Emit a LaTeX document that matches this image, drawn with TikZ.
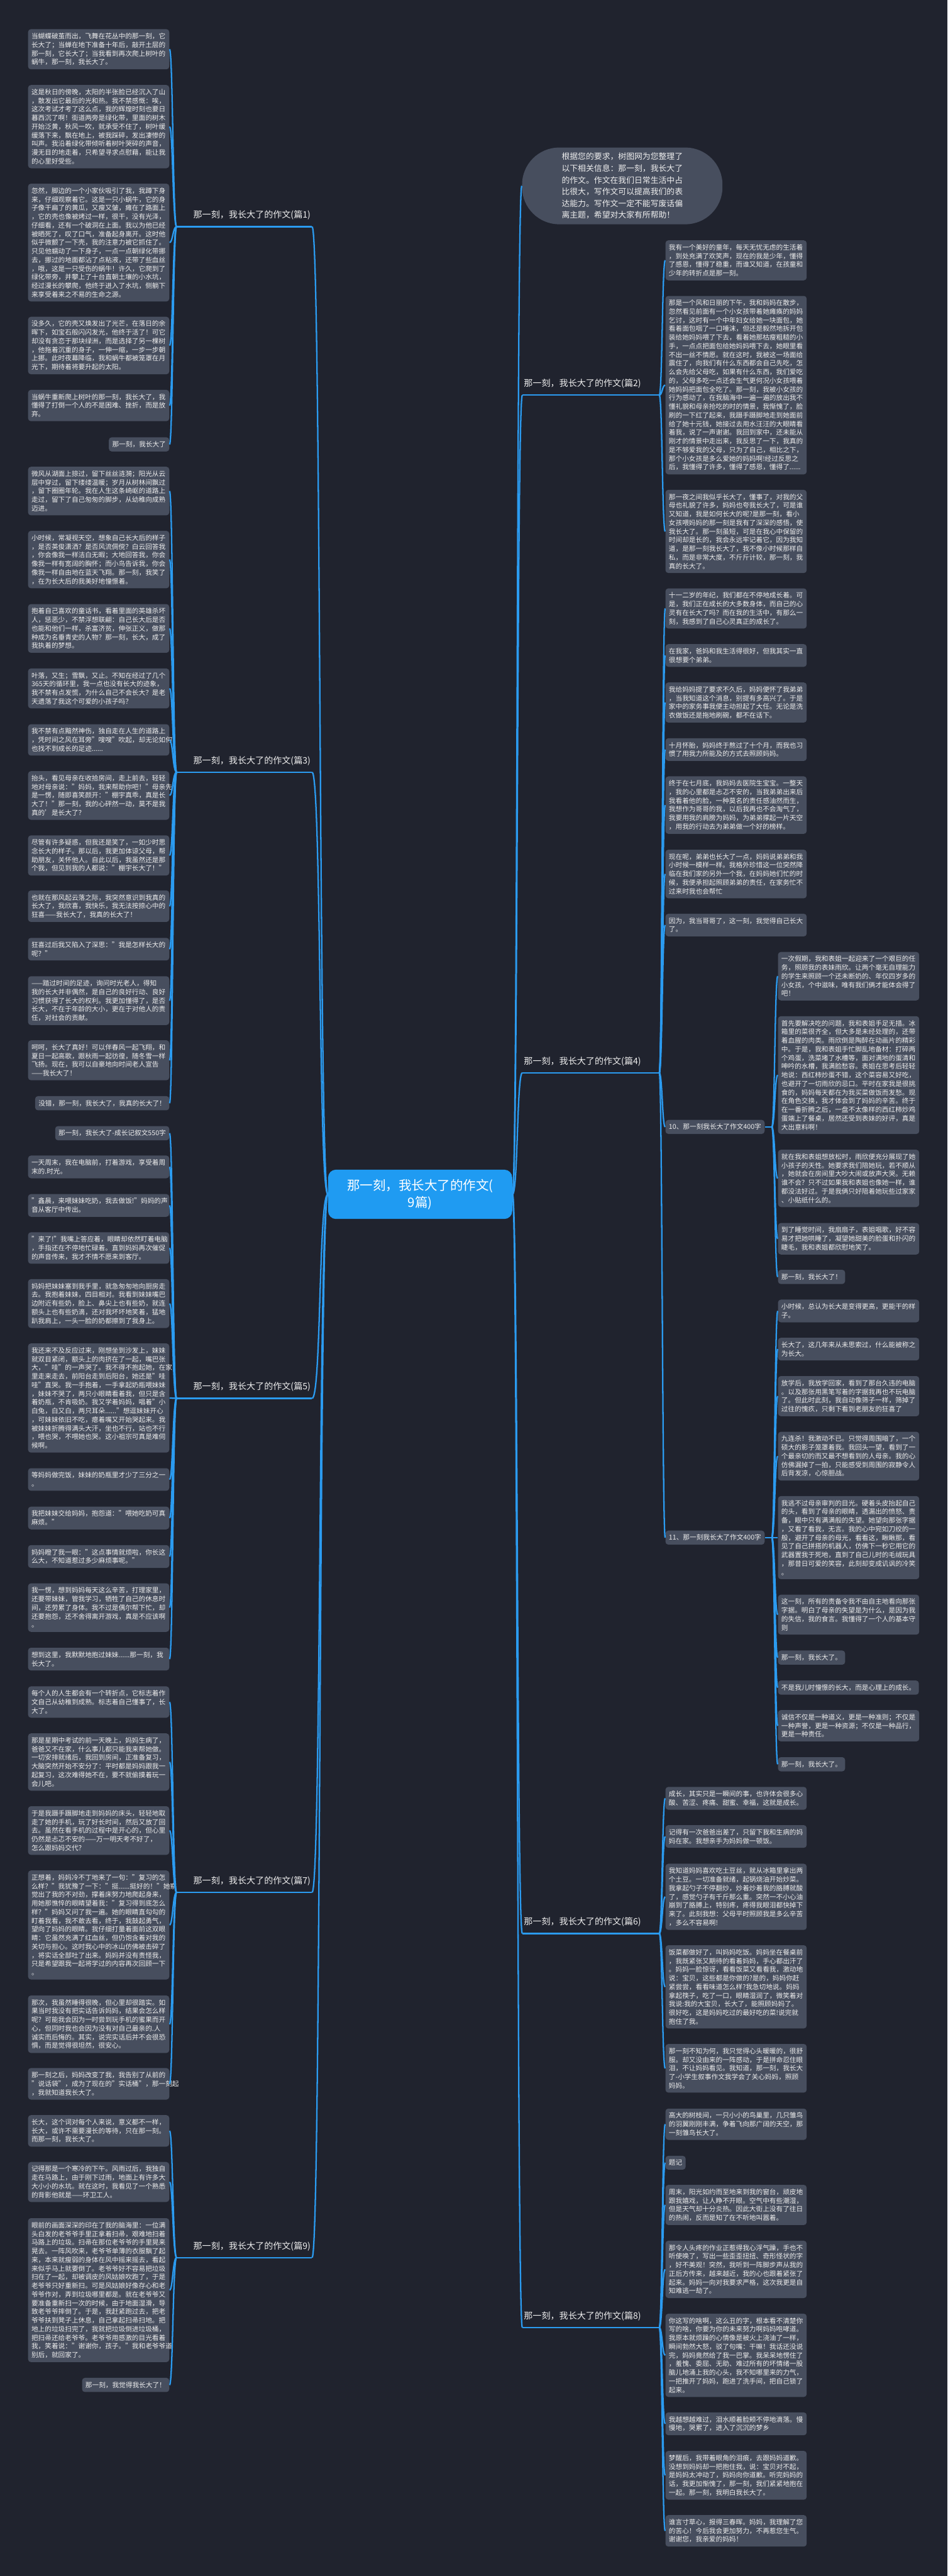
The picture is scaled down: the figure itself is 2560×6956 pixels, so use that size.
\documentclass[tikz,border=0pt]{standalone}
\usepackage{fontspec}
\setmainfont{Noto Sans CJK SC}
\usetikzlibrary{positioning}

\definecolor{bgdark}{HTML}{20232E}
\definecolor{boxgray}{HTML}{474E5E}
\definecolor{linkblue}{HTML}{2B9BF0}
\definecolor{hubblue}{HTML}{1F9BF2}
\definecolor{txtwhite}{HTML}{EEEEEE}

\begin{document}
\begin{tikzpicture}[
        x=0.01cm, y=-0.01cm,
        every node/.style={text=txtwhite},
        note/.style={rectangle, rounded corners=2.2pt, fill=boxgray, align=left, inner xsep=2.6pt, inner ysep=3pt, font=\fontsize{5.15pt}{6.64pt}\selectfont},
        leaf/.style={note, text width=3.63cm},
        topic/.style={inner xsep=1pt, inner ysep=5pt, font=\fontsize{6.8pt}{8pt}\selectfont},
        hub/.style={rectangle, rounded corners=6pt, fill=hubblue, text=white, align=center, minimum width=4.97cm, minimum height=1.33cm, font=\fontsize{9.9pt}{13pt}\selectfont},
        link/.style={draw=linkblue, line width=1.1pt}
    ]

    % Hintergrund
    \fill[bgdark] (0,0) rectangle (2560,6956);
    \useasboundingbox (0,0) rectangle (2560,6956);

    % Zentrum
    \node[hub] (hub) at (1135,3225) {那一刻，我长大了的作文(\\9篇)};

    % Einleitung
    \node[rectangle, rounded corners=1cm, fill=boxgray, minimum width=5.41cm, minimum height=2.07cm, align=left, font=\fontsize{6.2pt}{9pt}\selectfont] (intro) at (1681,502) {根据您的要求，树图网为您整理了\\以下相关信息：那一刻，我长大了\\的作文。作文在我们日常生活中占\\比很大，写作文可以提高我们的表\\达能力。写作文一定不能写废话偏\\离主题，希望对大家有所帮助！};

    % Hauptzweige links
    \node[topic, anchor=south east] (t1) at (843,612) {那一刻，我长大了的作文(篇1)};
    \node[topic, anchor=south east] (t3) at (843,2085) {那一刻，我长大了的作文(篇3)};
    \node[topic, anchor=south east] (t5) at (843,3776) {那一刻，我长大了的作文(篇5)};
    \node[topic, anchor=south east] (t7) at (843,5110) {那一刻，我长大了的作文(篇7)};
    \node[topic, anchor=south east] (t9) at (843,6096) {那一刻，我长大了的作文(篇9)};

    % Hauptzweige rechts
    \node[topic, anchor=south west] (t2) at (1411,1067) {那一刻，我长大了的作文(篇2)};
    \node[topic, anchor=south west] (t4) at (1411,2897) {那一刻，我长大了的作文(篇4)};
    \node[topic, anchor=south west] (t6) at (1411,5221) {那一刻，我长大了的作文(篇6)};
    \node[topic, anchor=south west] (t8) at (1411,6285) {那一刻，我长大了的作文(篇8)};

    % Verbindungen vom Zentrum
    \foreach \t in {t1,t3,t5,t7,t9}
        \draw[link] (hub.west) .. controls +(-25,0) and +(25,0) .. (\t.south east);
    \foreach \t in {t2,t4,t6,t8}
        \draw[link] (hub.east) .. controls +(15,0) and +(-15,0) .. (\t.south west);
    \draw[link] (hub.east) .. controls +(15,0) and +(-15,0) .. (intro.west);

    % Sammelpunkte
    \coordinate (b1) at (477,612);
    \coordinate (b3) at (477,2085);
    \coordinate (b5) at (477,3776);
    \coordinate (b7) at (477,5110);
    \coordinate (b9) at (477,6096);
    \coordinate (b2) at (1781,1067);
    \coordinate (b4) at (1781,2897);
    \coordinate (b6) at (1781,5221);
    \coordinate (b8) at (1781,6285);
    \coordinate (s10) at (2085,3043);
    \coordinate (s11) at (2085,4152);

    % Abschnitt 1
    \node[leaf, anchor=east] (l1a) at (458,133) {当蝴蝶破茧而出，飞舞在花丛中的那一刻，它\\长大了；当蝉在地下准备十年后，敲开土层的\\那一刻，它长大了；当我看到再次爬上树叶的\\蜗牛，那一刻，我长大了。};
    \node[leaf, anchor=east] (l1b) at (458,342) {这是秋日的傍晚，太阳的半张脸已经沉入了山\\，散发出它最后的光和热。我不禁感慨：唉，\\这次考试才考了这么点，我的辉煌时刻也要日\\暮西沉了啊！街道两旁是绿化带，里面的树木\\开始泛黄，秋风一吹，就承受不住了，树叶缓\\缓落下来，飘在地上，被我踩碎，发出凄惨的\\叫声。我沿着绿化带倾听着树叶哭碎的声音，\\漫无目的地走着，只希望寻求点慰藉，能让我\\的心里好受些。};
    \node[leaf, anchor=east] (l1c) at (458,655) {忽然，脚边的一个小家伙吸引了我，我蹲下身\\来，仔细观察着它。这是一只小蜗牛，它的身\\子像干扁了的黄瓜，又瘦又皱，瘫在了路面上\\，它的壳也像被烤过一样，很干，没有光泽，\\仔细看，还有一个破洞在上面。我以为他已经\\被晒死了，叹了口气，准备起身离开。这时他\\似乎微颤了一下壳，我的注意力被它抓住了。\\只见他蠕动了一下身子，一点一点朝绿化带挪\\去，挪过的地面都沾了点粘液，还带了些血丝\\，哦，这是一只受伤的蜗牛！许久，它爬到了\\绿化带旁，并攀上了十台直朝土壤的小水坑，\\经过漫长的攀爬，他终于进入了水坑，侧躺下\\来享受着来之不易的生命之源。};
    \node[leaf, anchor=east] (l1d) at (458,933) {没多久，它的壳又焕发出了光芒，在落日的余\\晖下，如宝石般闪闪发光，他终于活了！可它\\却没有贪恋于那块绿洲，而是选择了另一棵树\\，他拖着沉重的身子，一伸一缩，一步一步朝\\上挪。此时夜幕降临，我和蜗牛都被笼罩在月\\光下，期待着将要升起的太阳。};
    \node[leaf, anchor=east] (l1e) at (458,1095) {当蜗牛重新爬上树叶的那一刻，我长大了，我\\懂得了打倒一个人的不是困难、挫折，而是放\\弃。};
    \node[note, anchor=east] (l1f) at (458,1200) {那一刻，我长大了};

    % Abschnitt 3
    \node[leaf, anchor=east] (l3a) at (458,1326) {微风从湖面上掠过，留下丝丝涟漪；阳光从云\\层中穿过，留下缕缕温暖；岁月从树林间飘过\\，留下圈圈年轮。我在人生这条崎岖的道路上\\走过，留下了自己匆匆的脚步，从幼稚向成熟\\迈进。};
    \node[leaf, anchor=east] (l3b) at (458,1511) {小时候，常凝视天空，想象自己长大后的样子\\，是否英俊潇洒？是否风流倜傥？白云回答我\\，你会像我一样洁白无暇；大地回答我，你会\\像我一样有宽阔的胸怀；而小鸟告诉我，你会\\像我一样自由地在蓝天飞翔。那一刻，我笑了\\，在为长大后的我美好地憧憬着。};
    \node[leaf, anchor=east] (l3c) at (458,1697) {抱着自己喜欢的童话书，看着里面的英雄杀坏\\人，惩恶少，不禁浮想联翩：自己长大后是否\\也能和他们一样，杀富济贫，伸张正义，做那\\种成为名垂青史的人物？那一刻，长大，成了\\我执着的梦想。};
    \node[leaf, anchor=east] (l3d) at (458,1859) {叶落，又生；雪飘，又止。不知在经过了几个\\365天的循环里，我一点也没有长大的迹象，\\我不禁有点发慌，为什么自己不会长大？是老\\天遗落了我这个可爱的小孩子吗？};
    \node[leaf, anchor=east] (l3e) at (458,1998) {我不禁有点黯然神伤，独自走在人生的道路上\\，凭时间之风在耳旁"嗖嗖"吹起，却无论如何\\也找不到成长的足迹......};
    \node[leaf, anchor=east] (l3f) at (458,2148) {抬头，看见母亲在收拾房间，走上前去，轻轻\\地对母亲说："妈妈，我来帮助你吧！"母亲先\\是一愣，随即喜笑颜开："棚宇真乖，真是长\\大了！"那一刻，我的心砰然一动，莫不是我\\真的'是长大了？};
    \node[leaf, anchor=east] (l3g) at (458,2310) {尽管有许多疑惑，但我还是笑了，一如少时思\\念长大的样子。那以后，我更加体谅父母，帮\\助朋友，关怀他人。自此以后，我虽然还是那\\个我，但见到我的人都说："棚宇长大了！"};
    \node[leaf, anchor=east] (l3h) at (458,2447) {也就在那风起云落之际，我突然意识到我真的\\长大了，我欣喜，我快乐，我无法按捺心中的\\狂喜——我长大了，我真的长大了！};
    \node[leaf, anchor=east] (l3i) at (458,2563) {狂喜过后我又陷入了深思："我是怎样长大的\\呢？"};
    \node[leaf, anchor=east] (l3j) at (458,2702) {——踏过时间的足迹，询问时光老人，得知\\我的长大并非偶然，是自己的良好行动、良好\\习惯获得了长大的权利。我更加懂得了，是否\\长大，不在于年龄的大小，更在于对他人的责\\任，对社会的贡献。};
    \node[leaf, anchor=east] (l3k) at (458,2863) {呵呵，长大了真好！可以伴春风一起飞翔，和\\夏日一起高歌，跟秋雨一起彷徨，随冬雪一样\\飞扬。现在，我可以自豪地向时间老人宣告\\——我长大了！};
    \node[note, anchor=east] (l3l) at (458,2979) {没错，那一刻，我长大了，我真的长大了！};

    % Abschnitt 5
    \node[note, anchor=east] (l5a) at (458,3060) {那一刻，我长大了-成长记叙文550字};
    \node[leaf, anchor=east] (l5b) at (458,3151) {一天周末，我在电脑前，打着游戏，享受着周\\末的.时光。};
    \node[leaf, anchor=east] (l5c) at (458,3255) {"鑫晨，来喂妹妹吃奶，我去做饭!"妈妈的声\\音从客厅中传出。};
    \node[leaf, anchor=east] (l5d) at (458,3370) {"来了!"我嘴上答应着，眼睛却依然盯着电脑\\，手指还在不停地忙碌着。直到妈妈再次催促\\的声音传来，我才不情不愿来到客厅。};
    \node[leaf, anchor=east] (l5e) at (458,3520) {妈妈把妹妹塞到我手里，就急匆匆地向厨房走\\去。我抱着妹妹，四目相对。我看到妹妹嘴巴\\边附近有些奶，脸上、鼻尖上也有些奶，就连\\额头上也有些奶滴，还对我坏坏地笑着，猛地\\趴我肩上，一头一脸的奶都擦到了我身上。};
    \node[leaf, anchor=east] (l5f) at (458,3775) {我还来不及反应过来，刚想坐到沙发上，妹妹\\就双目紧闭，额头上的肉挤在了一起，嘴巴张\\大，"哇"的一声哭了。我不得不抱起她，在家\\里走来走去，前阳台走到后阳台，她还是"哇\\哇"直哭。我一手抱着，一手拿起奶瓶喂妹妹\\，妹妹不哭了，两只小眼睛看着我，但只是含\\着奶瓶，不肯吸奶。我又学着妈妈，唱着"小\\白兔，白又白，两只耳朵......"想逗妹妹开心\\，可妹妹依旧不吃，瘪着嘴又开始哭起来。我\\被妹妹折腾得满头大汗，坐也不行，站也不行\\，喂也哭，不喂她也哭。这小祖宗可真是难伺\\候啊。};
    \node[leaf, anchor=east] (l5g) at (458,3995) {等妈妈做完饭，妹妹的奶瓶里才少了三分之一\\。};
    \node[leaf, anchor=east] (l5h) at (458,4099) {我把妹妹交给妈妈，抱怨道："喂她吃奶可真\\麻烦。"};
    \node[leaf, anchor=east] (l5i) at (458,4203) {妈妈瞪了我一眼："这点事情就烦啦，你长这\\么大，不知道惹过多少麻烦事呢。"};
    \node[leaf, anchor=east] (l5j) at (458,4341) {我一愣，想到妈妈每天这么辛苦，打理家里，\\还要带妹妹，管我学习，牺牲了自己的休息时\\间，还劳累了身体。我不过是偶尔帮下忙，却\\还要抱怨，还不舍得离开游戏，真是不应该啊\\。};
    \node[leaf, anchor=east] (l5k) at (458,4480) {想到这里，我默默地抱过妹妹......那一刻，我\\长大了。};

    % Abschnitt 7
    \node[leaf, anchor=east] (l7a) at (458,4596) {每个人的人生都会有一个转折点，它标志着作\\文自己从幼稚到成熟。标志着自己懂事了，长\\大了。};
    \node[leaf, anchor=east] (l7b) at (458,4758) {那是星期中考试的前一天晚上，妈妈生病了，\\爸爸又不在家，什么事儿都只能我来帮她做。\\一切安排就绪后，我回到房间，正准备复习，\\大脑突然开始不安分了：平时都是妈妈跟我一\\起复习，这次难得她不在，要不就偷摸着玩一\\会儿吧。};
    \node[leaf, anchor=east] (l7c) at (458,4943) {于是我蹑手蹑脚地走到妈妈的床头，轻轻地取\\走了她的手机，玩了好长时间，然后又放了回\\去。虽然在看手机的过程中是开心的，但心里\\仍然是忐忑不安的——万一明天考不好了，\\怎么跟妈妈交代？};
    \node[leaf, anchor=east] (l7d) at (458,5198) {正想着，妈妈冷不丁地来了一句："复习的怎\\么样？"我犹豫了一下："挺......挺好的！"她察\\觉出了我的不对劲，撑着床努力地爬起身来，\\用她那憔悴的眼睛望着我："复习得到底怎么\\样？"妈妈又问了我一遍。她的眼睛直勾勾的\\盯着我看，我不敢去看，终于，我鼓起勇气，\\望向了妈妈的眼睛。我仔细打量着面前这双眼\\睛：它虽然充满了红血丝，但仍饱含着对我的\\关切与担心。这时我心中的冰山仿佛被击碎了\\，将实话全部吐了出来。妈妈并没有责怪我，\\只是希望跟我一起将学过的内容再次回顾一下\\。};
    \node[leaf, anchor=east] (l7e) at (458,5466) {那次，我虽然睡得很晚，但心里却很踏实。如\\果当时我没有把实话告诉妈妈，结果会怎么样\\呢？可能我会因为一时尝到玩手机的蜜果而开\\心，但同时我也会因为没有对自己最亲的.人\\诚实而后悔的。其实，说完实话后并不会很恐\\惧，而是觉得很坦然，很安心。};
    \node[leaf, anchor=east] (l7f) at (458,5627) {那一刻之后，妈妈改变了我，我告别了从前的\\"说话袋"，成为了现在的"实话桶"，那一刻起\\，我就知道我长大了。};

    % Abschnitt 9
    \node[leaf, anchor=east] (l9a) at (458,5754) {长大，这个词对每个人来说，意义都不一样，\\长大，或许不需要漫长的等待，只在那一刻。\\而那一刻，我长大了。};
    \node[leaf, anchor=east] (l9b) at (458,5892) {记得那是一个寒冷的下午。风雨过后，我独自\\走在马路上，由于刚下过雨，地面上有许多大\\大小小的水坑。就在这时，我看见了一个熟悉\\的背影他就是——环卫工人。};
    \node[leaf, anchor=east] (l9c) at (458,6184) {眼前的画面深深的印在了我的脑海里：一位满\\头白发的老爷爷手里正拿着扫帚，艰难地扫着\\马路上的垃圾。扫帚在那位老爷爷的手里晃来\\晃去。一阵风吹来，老爷爷单薄的衣服飘了起\\来，本来就瘦弱的身体在风中摇来摇去，看起\\来似乎马上就要倒了。老爷爷好不容易把垃圾\\扫在了一起，却被调皮的风姑娘吹跑了，于是\\老爷爷只好重新扫。可是风姑娘好像存心和老\\爷爷作对，弄到垃圾哪里都是。就在老爷爷又\\要准备重新扫一次的时候，由于地面湿滑，导\\致老爷爷摔倒了。于是，我赶紧跑过去，把老\\爷爷扶到凳子上休息，自己拿起扫帚扫地。把\\地上的垃圾扫完了，我就把垃圾倒进垃圾桶，\\把扫帚还给老爷爷。老爷爷用感激的目光看着\\我，笑着说："谢谢你，孩子。"我和老爷爷道\\别后，就回家了。};
    \node[note, anchor=east] (l9d) at (458,6440) {那一刻，我觉得我长大了！};

    % Abschnitt 2
    \node[leaf, anchor=west] (r2a) at (1797,703) {我有一个美好的童年，每天无忧无虑的生活着\\，到处充满了欢笑声，现在的我是少年，懂得\\了感恩，懂得了稳重，而谁又知道，在孩童和\\少年的转折点是那一刻。};
    \node[leaf, anchor=west] (r2b) at (1797,1040) {那是一个风和日丽的下午，我和妈妈在散步，\\忽然看见前面有一个小女孩带着她瘫痪的妈妈\\乞讨，这时有一个中年妇女给她一块面包，她\\看着面包咽了一口唾沫，但还是毅然地拆开包\\装给她妈妈喂了下去，看着她那枯瘦粗糙的小\\手，一点点把面包给她妈妈喂下去，她眼里看\\不出一丝不情愿。就在这时，我被这一场面给\\震住了，向我们有什么东西都会自己先吃，怎\\么会先给父母吃，如果有什么东西，我们爱吃\\的，父母多吃一点还会生气更何况小女孩喂着\\她妈妈把面包全吃了。那一刻，我被小女孩的\\行为感动了，在我脑海中一遍一遍的放出我不\\懂礼貌和母亲抢吃的时的情景，我惭愧了，脸\\刷的一下红了起来，我蹑手蹑脚地走到她面前\\给了她十元钱，她接过去用水汪汪的大眼睛看\\着我，说了一声谢谢。我回到家中，还未能从\\刚才的情景中走出来，我反思了一下，我真的\\是不够爱我的父母，只为了自己，相比之下，\\那个小女孩是多么爱她的妈妈啊!经过反思之\\后，我懂得了许多，懂得了感恩，懂得了......};
    \node[leaf, anchor=west] (r2c) at (1797,1435) {那一夜之间我似乎长大了，懂事了，对我的父\\母也礼貌了许多，妈妈也夸我长大了，可是谁\\又知道，我是如何长大的呢?是那一刻，看小\\女孩喂妈妈的那一刻是我有了深深的感悟，使\\我长大了。那一刻虽短，可是在我心中保留的\\时间却是长的，我会永远牢记着它，因为我知\\道，是那一刻我长大了，我不像小时候那样自\\私，而是非常大度，不斤斤计较，那一刻，我\\真的长大了。};

    % Abschnitt 4
    \node[leaf, anchor=west] (r4a) at (1797,1643) {十一二岁的年纪，我们都在不停地成长着。可\\是，我们正在成长的大多数身体，而自己的心\\灵有在长大了吗？而在我的生活中，有那么一\\刻，我感到了自己心灵真正的成长了。};
    \node[leaf, anchor=west] (r4b) at (1797,1770) {在我家，爸妈和我生活得很好，但我其实一直\\很想要个弟弟。};
    \node[leaf, anchor=west] (r4c) at (1797,1897) {我给妈妈提了要求不久后，妈妈便怀了我弟弟\\，当我知道这个消息，别提有多高兴了。于是\\家中的家务事我便主动担起了大任。无论是洗\\衣做饭还是拖地刷碗，都不在话下。};
    \node[leaf, anchor=west] (r4d) at (1797,2024) {十月怀胎，妈妈终于熬过了十个月，而我也习\\惯了用我力所能及的方式去照顾妈妈。};
    \node[leaf, anchor=west] (r4e) at (1797,2174) {终于在七月底，我妈妈去医院生宝宝。一整天\\，我的心里都是忐忑不安的，当我弟弟出来后\\我看着他的脸，一种莫名的责任感油然而生，\\我想作为哥哥的我，以后我再也不会淘气了，\\我要用我的肩膀为妈妈，为弟弟撑起一片天空\\，用我的行动去为弟弟做一个好的榜样。};
    \node[leaf, anchor=west] (r4f) at (1797,2360) {现在呢，弟弟也长大了一点，妈妈说弟弟和我\\小时候一模样一样。我格外珍惜这一位突然降\\临在我们家的另外一个我，在妈妈她们忙的时\\候，我便承担起照顾弟弟的责任，在家务忙不\\过来时我也会帮忙};
    \node[leaf, anchor=west] (r4g) at (1797,2498) {因为，我当哥哥了，这一刻，我觉得自己长大\\了。};
    \node[note, anchor=west] (sub10) at (1797,3043) {10、那一刻我长大了作文400字};
    \node[note, anchor=west] (sub11) at (1797,4152) {11、那一刻我长大了作文400字};

    % Unterzweig 10
    \node[leaf, anchor=west] (r10a) at (2101,2636) {一次假期，我和表姐一起迎来了一个艰巨的任\\务，照顾我的表妹雨欣。让两个毫无自理能力\\的学生来照顾一个还未断奶的、年仅四岁多的\\小女孩，个中滋味，唯有我们俩才能体会得了\\吧！};
    \node[leaf, anchor=west] (r10b) at (2101,2903) {首先要解决吃的问题，我和表姐手足无措。冰\\箱里的菜很齐全，但大多是未经处理的，还带\\着血腥的肉类。雨欣倒是陶醉在动画片的精彩\\中。于是，我和表姐手忙脚乱地备材：打碎两\\个鸡蛋，洗菜堵了水槽等，面对满地的蛋清和\\呻吟的水槽，我满脸愁容。表姐在思考后轻轻\\地说：西红柿炒蛋不错，这个菜容易又好吃，\\也避开了一切雨欣的忌口。平时在家我是很挑\\食的，妈妈每天都在为我买菜做饭而发愁。现\\在角色交换，我才体会到了妈妈的辛苦。终于\\在一番折腾之后，一盘不太像样的西红柿炒鸡\\蛋端上了餐桌，居然还受到表妹的好评，真是\\大出意料啊！};
    \node[leaf, anchor=west] (r10c) at (2101,3182) {就在我和表姐想放松时，雨欣便充分展现了她\\小孩子的天性。她要求我们陪她玩，若不顺从\\，她就会在房间里大吵大闹或放声大哭。无赖\\谁不会？只不过如果我和表姐也像她一样，谁\\都没法好过。于是我俩只好陪着她玩些过家家\\、小贴纸什么的。};
    \node[leaf, anchor=west] (r10d) at (2101,3345) {到了睡觉时间，我扇扇子，表姐唱歌，好不容\\易才把她哄睡了，凝望她甜美的脸蛋和扑闪的\\睫毛，我和表姐都欣慰地笑了。};
    \node[note, anchor=west] (r10e) at (2101,3448) {那一刻，我长大了！};

    % Unterzweig 11
    \node[leaf, anchor=west] (r11a) at (2101,3540) {小时候，总认为长大是变得更高，更能干的样\\子。};
    \node[leaf, anchor=west] (r11b) at (2101,3643) {长大了，这几年来从未思索过，什么能被称之\\为长大。};
    \node[leaf, anchor=west] (r11c) at (2101,3770) {放学后，我放学回家，看到了那台久违的电脑\\。以及那张用黑笔写着的字据我再也不玩电脑\\了。但此时此刻，我自动像筛子一样，筛掉了\\过往的愧疚，只剩下看到老朋友的狂喜了};
    \node[leaf, anchor=west] (r11d) at (2101,3932) {九连杀！我激动不已。只觉得周围暗了，一个\\硕大的影子笼罩着我。我回头一望，看到了一\\个最亲切的而又最不想看到的人母亲。我的心\\仿佛漏掉了一拍，只能感受到周围的寂静令人\\后背发凉，心惊胆战。};
    \node[leaf, anchor=west] (r11e) at (2101,4152) {我逃不过母亲审判的目光。硬着头皮抬起自己\\的头，看到了母亲的眼睛，透漏出的愤怒、责\\备，眼中只有满满般的失望。她望向那张字据\\，又看了看我，无言。我的心中宛如刀绞的一\\般，避开了母亲的母光，看看这，瞅瞅那，看\\见了自己拼搭的机器人，仿佛下一秒它用它的\\武器置我于死地，直到了自己儿时的毛绒玩具\\，那昔日可爱的笑容，此刻却变成讥讽的冷笑\\。};
    \node[leaf, anchor=west] (r11f) at (2101,4360) {这一刻，所有的责备令我不由自主地看向那张\\字据。明白了母亲的失望是为什么，是因为我\\的失信，我的食言。我懂得了一个人的基本守\\则};
    \node[note, anchor=west] (r11g) at (2101,4476) {那一刻，我长大了。};
    \node[note, anchor=west] (r11h) at (2101,4557) {不是我儿时憧憬的长大，而是心理上的成长。};
    \node[leaf, anchor=west] (r11i) at (2101,4660) {诚信不仅是一种道义，更是一种准则；不仅是\\一种声誉，更是一种资源；不仅是一种品行，\\更是一种责任。};
    \node[note, anchor=west] (r11j) at (2101,4764) {那一刻，我长大了。};

    % Abschnitt 6
    \node[leaf, anchor=west] (r6a) at (1797,4856) {成长，其实只是一瞬间的事，也许体会很多心\\酸、苦涩、疼痛、甜蜜、幸福，这就是成长。};
    \node[leaf, anchor=west] (r6b) at (1797,4959) {记得有一次爸爸出差了，只留下我和生病的妈\\妈在家。我想亲手为妈妈做一顿饭。};
    \node[leaf, anchor=west] (r6c) at (1797,5122) {我知道妈妈喜欢吃土豆丝，就从冰箱里拿出两\\个土豆。一切准备就绪，起锅烧油开始炒菜。\\我拿起勺子不停翻炒，炒着炒着我的胳膊就酸\\了，感觉勺子有千斤那么重。突然一不小心油\\崩到了胳膊上，特别疼，疼得我眼泪都快掉下\\来了。此刻我想：父母平时照顾我是多么辛苦\\，多么不容易啊!};
    \node[leaf, anchor=west] (r6d) at (1797,5365) {饭菜都做好了，叫妈妈吃饭。妈妈坐在餐桌前\\，我既紧张又期待的看着妈妈，手心都出汗了\\。妈妈一脸惊讶，看看饭菜又看看我，激动地\\说：宝贝，这些都是你做的?是的，妈妈你赶\\紧尝尝，看看味道怎么样?我急切地说。妈妈\\拿起筷子，吃了一口，眼睛湿润了，微笑着对\\我说:我的大宝贝，长大了，能照顾妈妈了。\\很好吃，这是妈妈吃过的最好吃的菜!说完就\\抱住了我。};
    \node[leaf, anchor=west] (r6e) at (1797,5585) {那一刻不知为何，我只觉得心头暖暖的，很舒\\服。却又没由来的一阵感动，于是拼命忍住眼\\泪，不让妈妈看见。我知道，那一刻，我长大\\了-小学生叙事作文我学会了关心妈妈，照顾\\妈妈。};

    % Abschnitt 8
    \node[leaf, anchor=west] (r8a) at (1797,5736) {高大的树枝间，一只小小的鸟巢里，几只雏鸟\\的羽翼刚刚丰满，争着飞向那广阔的天空，那\\一刻雏鸟长大了。};
    \node[note, anchor=west] (r8b) at (1797,5840) {题记};
    \node[leaf, anchor=west] (r8c) at (1797,5954) {周末，阳光如约而至地来到我的窗台，顽皮地\\跟我嬉戏，让人睁不开眼。空气中有些潮湿，\\但是天气却十分炎热。因此大街上没有了往日\\的热闹，反而是知了在不听地叫嚣着。};
    \node[leaf, anchor=west] (r8d) at (1797,6128) {那令人头疼的作业正惹得我心浮气躁，手也不\\听使唤了，写出一些歪歪扭扭、奇形怪状的字\\，好不美观！突然，我听到一阵脚步声从我的\\正后方传来，越来越近，我的心也跟着紧张了\\起来。妈妈一向对我要求严格，这次我更是自\\知难逃一劫了。};
    \node[leaf, anchor=west] (r8e) at (1797,6360) {你这写的啥啊，这么丑的字，根本看不清楚你\\写的啥，你要为你的未来努力啊妈妈咆哮道。\\我原本就烦躁的心情像是被火上浇油了一样，\\瞬间勃然大怒，驳了句嘴：干嘛！我话还没说\\完，妈妈竟然给了我一巴掌。我呆呆地愣住了\\，羞愧、委屈、无助、难过所有的坏情绪一股\\脑儿地涌上我的心头，我不知哪里来的力气，\\一把推开了妈妈，跑进了洗手间，把自己锁了\\起来。};
    \node[leaf, anchor=west] (r8f) at (1797,6545) {我越想越难过，泪水顺着脸颊不停地滴落。慢\\慢地，哭累了，进入了沉沉的梦乡};
    \node[leaf, anchor=west] (r8g) at (1797,6684) {梦醒后，我带着眼角的泪痕，去跟妈妈道歉。\\没想到妈妈却一把抱住我，说：宝贝对不起，\\是妈妈太冲动了，妈妈向你道歉。听完妈妈的\\话，我更加惭愧了，那一刻，我们紧紧地抱在\\一起。那一刻，我明白我长大了。};
    \node[leaf, anchor=west] (r8h) at (1797,6834) {谁言寸草心，报得三春晖。妈妈，我理解了您\\的苦心！今后我会更加努力，不再惹您生气。\\谢谢您，我亲爱的妈妈！};

    % Unterstreichungen
    \foreach \t/\b in {t1/b1,t3/b3,t5/b5,t7/b7,t9/b9}
        \draw[link] (\t.south east) -- (\b);
    \foreach \t/\b in {t2/b2,t4/b4,t6/b6,t8/b8}
        \draw[link] (\t.south west) -- (\b);
    \draw[link] (sub10.east) -- (s10);
    \draw[link] (sub11.east) -- (s11);

    % Verbindungen links
    \foreach \n in {l1a,l1b,l1c,l1d,l1e,l1f}
        \draw[link] (b1) .. controls +(-10,0) and +(9,0) .. (\n.east);
    \foreach \n in {l3a,l3b,l3c,l3d,l3e,l3f,l3g,l3h,l3i,l3j,l3k,l3l}
        \draw[link] (b3) .. controls +(-10,0) and +(9,0) .. (\n.east);
    \foreach \n in {l5a,l5b,l5c,l5d,l5e,l5f,l5g,l5h,l5i,l5j,l5k}
        \draw[link] (b5) .. controls +(-10,0) and +(9,0) .. (\n.east);
    \foreach \n in {l7a,l7b,l7c,l7d,l7e,l7f}
        \draw[link] (b7) .. controls +(-10,0) and +(9,0) .. (\n.east);
    \foreach \n in {l9a,l9b,l9c,l9d}
        \draw[link] (b9) .. controls +(-10,0) and +(9,0) .. (\n.east);

    % Verbindungen rechts
    \foreach \n in {r2a,r2b,r2c}
        \draw[link] (b2) .. controls +(8,0) and +(-8,0) .. (\n.west);
    \foreach \n in {r4a,r4b,r4c,r4d,r4e,r4f,r4g,sub10,sub11}
        \draw[link] (b4) .. controls +(8,0) and +(-8,0) .. (\n.west);
    \foreach \n in {r10a,r10b,r10c,r10d,r10e}
        \draw[link] (s10) .. controls +(8,0) and +(-8,0) .. (\n.west);
    \foreach \n in {r11a,r11b,r11c,r11d,r11e,r11f,r11g,r11h,r11i,r11j}
        \draw[link] (s11) .. controls +(8,0) and +(-8,0) .. (\n.west);
    \foreach \n in {r6a,r6b,r6c,r6d,r6e}
        \draw[link] (b6) .. controls +(8,0) and +(-8,0) .. (\n.west);
    \foreach \n in {r8a,r8b,r8c,r8d,r8e,r8f,r8g,r8h}
        \draw[link] (b8) .. controls +(8,0) and +(-8,0) .. (\n.west);

\end{tikzpicture}
\end{document}
